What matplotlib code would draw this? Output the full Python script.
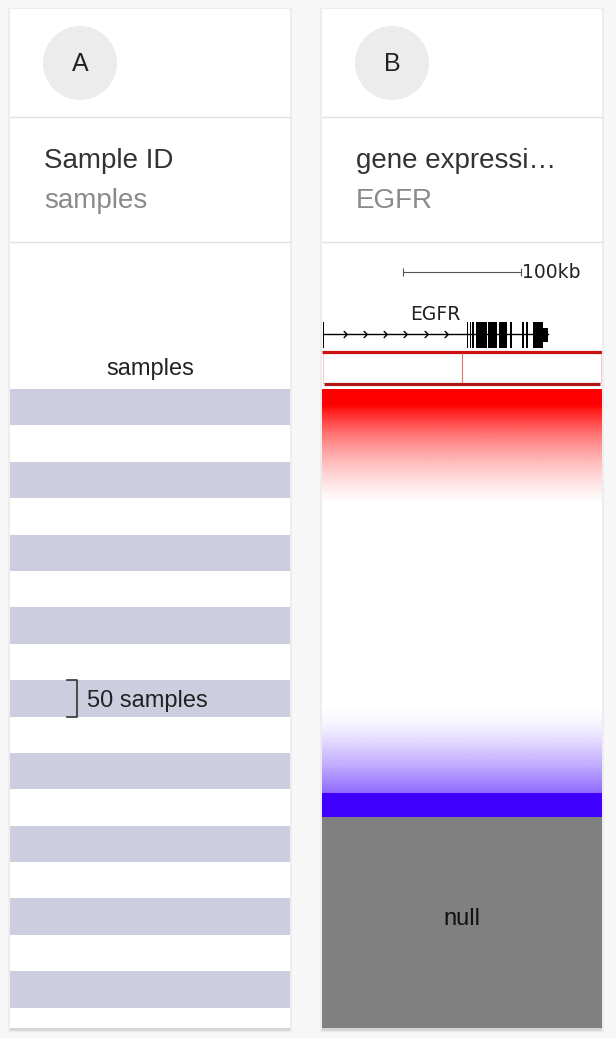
import numpy as np
import matplotlib
matplotlib.use("Agg")
import matplotlib.pyplot as plt
from matplotlib.patches import Rectangle, Circle
from matplotlib.colors import LinearSegmentedColormap
from matplotlib.path import Path

plt.rcParams["font.family"] = ["Liberation Sans", "DejaVu Sans"]

# column headers
track_letters = ["A", "B"]
track_titles = ["Sample ID", "gene expressi…"]
track_subtitles = ["samples", "EGFR"]

# samples track
n_samples = 878
stripe_size = 50
legend_stripe = 400  # stripe that carries the "50 samples" bracket

# gene expression, sorted high -> low: value and number of samples with it
red_fade = [0.96, 0.92, 0.88, 0.85, 0.81, 0.78, 0.74, 0.71, 0.68, 0.65,
            0.62, 0.59, 0.56, 0.53, 0.51, 0.48, 0.46, 0.43, 0.41, 0.39,
            0.37, 0.35, 0.33, 0.31, 0.29, 0.27, 0.25, 0.23, 0.22, 0.20,
            0.18, 0.17, 0.15, 0.14, 0.12, 0.11, 0.09, 0.08, 0.07, 0.05,
            0.04, 0.03, 0.02]
blue_fade = [-0.01, -0.01, -0.02, -0.02, -0.03, -0.04, -0.05, -0.06, -0.07, -0.08,
             -0.09, -0.11, -0.12, -0.14, -0.15, -0.17, -0.18, -0.20, -0.21, -0.23,
             -0.25, -0.26, -0.28, -0.30, -0.31, -0.33, -0.35, -0.37, -0.39, -0.41,
             -0.43, -0.45, -0.47, -0.49, -0.51, -0.53, -0.55, -0.57]
expr_values = [1.2] + red_fade + [0.0] + blue_fade + [-1.2]
expr_counts = [23] + [3] * len(red_fade) + [289] + [3] * len(blue_fade) + [33]

# EGFR gene model, kb from start of view
gene_start, gene_end = 0.0, 190.6
exons = [(0.0, 0.8), (122.0, 123.0), (124.3, 125.3), (126.6, 127.6),
         (129.6, 138.9), (139.8, 147.4), (149.1, 155.8), (158.8, 159.8),
         (169.0, 170.0), (172.4, 173.4), (177.9, 186.3)]
utr = (186.3, 190.6)
probe_kb = 117.8
scalebar_kb = (67.8, 167.8)
view_kb = (-0.85, 236.4)

W, H = 616, 1038
cards = [(10, 290), (322, 602)]
card_top, card_bottom = 9, 1028
data_top = 389


def px_rect(x0, y0, x1, y1):
    return [x0 / W, 1 - y1 / H, (x1 - x0) / W, (y1 - y0) / H]


fig = plt.figure(figsize=(W / 100, H / 100), dpi=100, facecolor="#f7f7f7")

# card frames and headers
ax = fig.add_axes([0, 0, 1, 1])
ax.set_xlim(0, W)
ax.set_ylim(H, 0)
ax.axis("off")
for i, (x0, x1) in enumerate(cards):
    ax.add_patch(Rectangle((x0 - 2, card_top - 1), x1 - x0 + 4, card_bottom - card_top + 5,
                           color="#ededed", lw=0))
    ax.add_patch(Rectangle((x0 - 0.3, card_top), x1 - x0 + 0.6, card_bottom - card_top + 2.5,
                           color="#d6d6d6", lw=0))
    ax.add_patch(Rectangle((x0, card_top), x1 - x0, card_bottom - card_top, color="white", lw=0))
    ax.plot([x0, x1], [117, 117], color="#e2e2e2", lw=1)
    ax.plot([x0, x1], [242, 242], color="#e2e2e2", lw=1)
    cx = x0 + 70
    ax.add_patch(Circle((cx, 63), 37, color="#ececec", lw=0))
    ax.text(cx, 64, track_letters[i], ha="center", va="center", fontsize=18, color="#222222")
    ax.text(x0 + 34, 168, track_titles[i], ha="left", va="baseline", fontsize=20, color="#333333")
    ax.text(x0 + 34, 208, track_subtitles[i], ha="left", va="baseline", fontsize=20, color="#8a8a8a")

ax.text((cards[0][0] + cards[0][1]) / 2, 375, "samples", ha="center", va="baseline",
        fontsize=17, color="#222222")

# A: sample stripes
ax_s = fig.add_axes(px_rect(cards[0][0], data_top, cards[0][1], card_bottom))
stripe_starts = np.arange(0, n_samples, 2 * stripe_size)
ax_s.barh(stripe_starts, 1, height=stripe_size, left=0, align="edge", color="#cdcde0", lw=0)
bx = 0.239
ax_s.plot([bx - 0.035, bx, bx, bx - 0.035],
          [legend_stripe, legend_stripe, legend_stripe + stripe_size, legend_stripe + stripe_size],
          color="#333333", lw=1.2)
ax_s.text(0.275, legend_stripe + stripe_size / 2, "50 samples", ha="left", va="center_baseline",
          fontsize=17, color="#222222")
ax_s.set_xlim(0, 1)
ax_s.set_ylim(n_samples, 0)
ax_s.axis("off")

# B: expression heat column + null block
cmap = LinearSegmentedColormap.from_list("expr", ["#4000ff", "#ffffff", "#ff0000"], N=511)
column = np.repeat(expr_values, expr_counts)[:, None]
n_valid = len(column)
n_null = n_samples - n_valid
ax_h = fig.add_axes(px_rect(cards[1][0], data_top, cards[1][1], card_bottom))
ax_h.imshow(column, aspect="auto", cmap=cmap, vmin=-1, vmax=1,
            extent=(0, 1, n_valid, 0), interpolation="antialiased")
ax_h.barh(n_valid, 1, height=n_null, left=0, align="edge", color="#808080", lw=0)
ax_h.text(0.5, n_valid + n_null / 2 + 4, "null", ha="center", va="baseline",
          fontsize=17, color="#111111")
ax_h.set_xlim(0, 1)
ax_h.set_ylim(n_samples, 0)
ax_h.axis("off")

# B: gene model
ax_g = fig.add_axes(px_rect(cards[1][0], 250, cards[1][1], data_top))
ax_g.set_xlim(*view_kb)
ax_g.set_ylim(data_top, 250)
ax_g.axis("off")
s0, s1 = scalebar_kb
ax_g.plot([s0, s1], [272, 272], color="#555555", lw=0.8)
ax_g.vlines([s0, s1], 268, 276, color="#555555", lw=0.8)
ax_g.text(s1 + 0.8, 272, "100kb", ha="left", va="center", fontsize=13.5,
          family="DejaVu Sans", color="#222222")
ax_g.text((gene_start + gene_end) / 2, 320, "EGFR", ha="center", va="baseline",
          fontsize=13.5, family="DejaVu Sans", color="#222222")
ax_g.plot([gene_start, gene_end], [334, 334], color="black", lw=1)
chevron = Path([(-0.5, 1), (0.5, 0), (-0.5, -1)], [Path.MOVETO, Path.LINETO, Path.LINETO])
ax_g.plot(np.arange(18.6, 110, 17.1), np.full(6, 334), ls="none", marker=chevron,
          markersize=5, mfc="none", mec="black", mew=1)
ax_g.broken_barh([(s, e - s) for s, e in exons], (322, 26), color="black", lw=0)
ax_g.broken_barh([(utr[0], utr[1] - utr[0])], (328, 14), color="black", lw=0)
ax_g.add_patch(Rectangle((view_kb[0] + 0.6, 353), view_kb[1] - view_kb[0] - 1.2, 30,
                         fill=False, ec="#f3caca", lw=0.8))
ax_g.plot(view_kb, [352, 352], color="#cc1111", lw=2.3, solid_capstyle="butt")
ax_g.vlines(probe_kb, 353, 383, color="#e07070", lw=0.8)
ax_g.plot([view_kb[0] + 2, view_kb[1] - 2], [383.5, 383.5], color="#b01818", lw=2.3,
          solid_capstyle="butt")

fig.savefig("out.png", dpi=100, facecolor=fig.get_facecolor())
